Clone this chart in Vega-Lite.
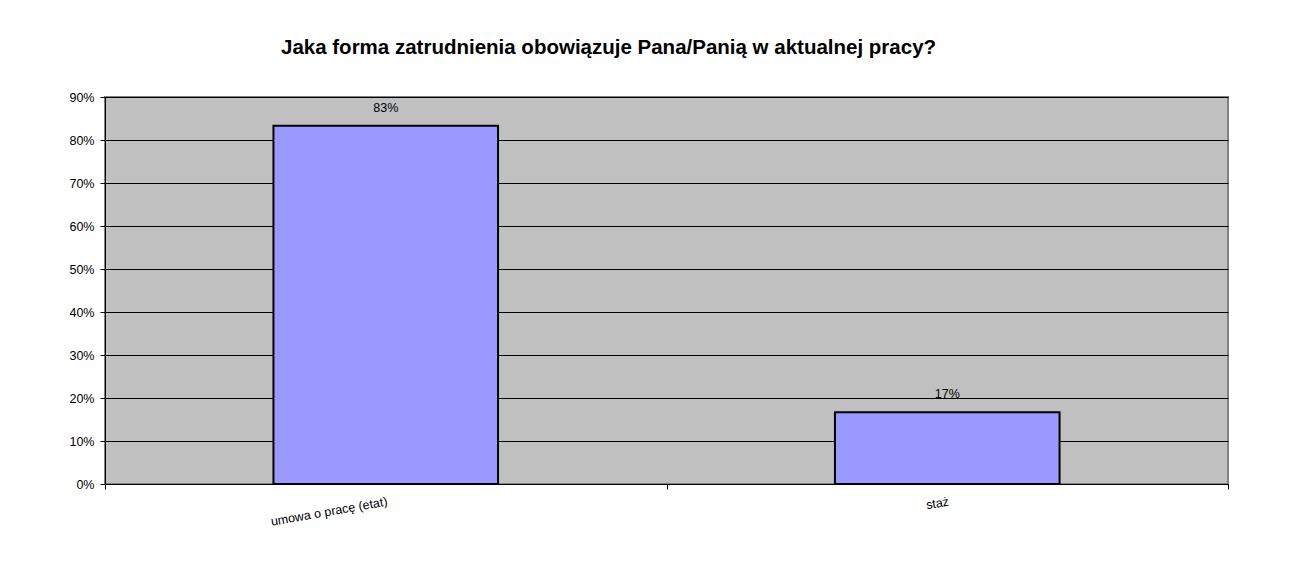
{
  "$schema": "https://vega.github.io/schema/vega-lite/v6.json",
  "width": 1123,
  "height": 387,
  "autosize": {"type": "none"},
  "padding": {"left": 105, "top": 97, "right": 77, "bottom": 87},
  "background": "#ffffff",
  "title": {
    "text": "Jaka forma zatrudnienia obowiązuje Pana/Panią w aktualnej pracy?",
    "anchor": "start",
    "dx": 212,
    "offset": 33,
    "font": "Liberation Sans",
    "fontSize": 20.5,
    "fontWeight": "bold",
    "color": "#000000"
  },
  "data": {
    "values": [
      {"forma": "umowa o pracę (etat)", "udzial": 0.8333},
      {"forma": "staż", "udzial": 0.1667}
    ]
  },
  "config": {
    "font": "Liberation Sans",
    "view": {"fill": "#C0C0C0", "stroke": "#808080", "strokeWidth": 2},
    "axis": {
      "labelFont": "Liberation Sans",
      "labelFontSize": 12.5,
      "labelColor": "#000000",
      "domainColor": "#000000",
      "tickColor": "#000000",
      "gridColor": "#000000",
      "gridOpacity": 1
    }
  },
  "encoding": {
    "x": {
      "field": "forma",
      "type": "nominal",
      "sort": null,
      "scale": {"paddingInner": 0, "paddingOuter": 0},
      "axis": {
        "title": null,
        "labelAngle": -10,
        "labelAlign": "right",
        "labelBaseline": "top",
        "labelPadding": 6,
        "tickBand": "extent",
        "tickSize": 5,
        "grid": false,
        "domainWidth": 1
      }
    },
    "y": {
      "field": "udzial",
      "type": "quantitative",
      "scale": {"domain": [0, 0.9], "nice": false},
      "axis": {
        "title": null,
        "format": ".0%",
        "values": [0, 0.1, 0.2, 0.3, 0.4, 0.5, 0.6, 0.7, 0.8, 0.9],
        "tickSize": 5,
        "labelPadding": 6,
        "grid": true,
        "gridWidth": 1
      }
    }
  },
  "layer": [
    {
      "mark": {"type": "bar", "width": {"band": 0.4}, "fill": "#9999FF", "stroke": "#000000", "strokeWidth": 2}
    },
    {
      "mark": {"type": "text", "baseline": "bottom", "dy": -11, "fontSize": 12.5, "color": "#000000", "font": "Liberation Sans"},
      "encoding": {
        "text": {"field": "udzial", "type": "quantitative", "format": ".0%"}
      }
    }
  ]
}
